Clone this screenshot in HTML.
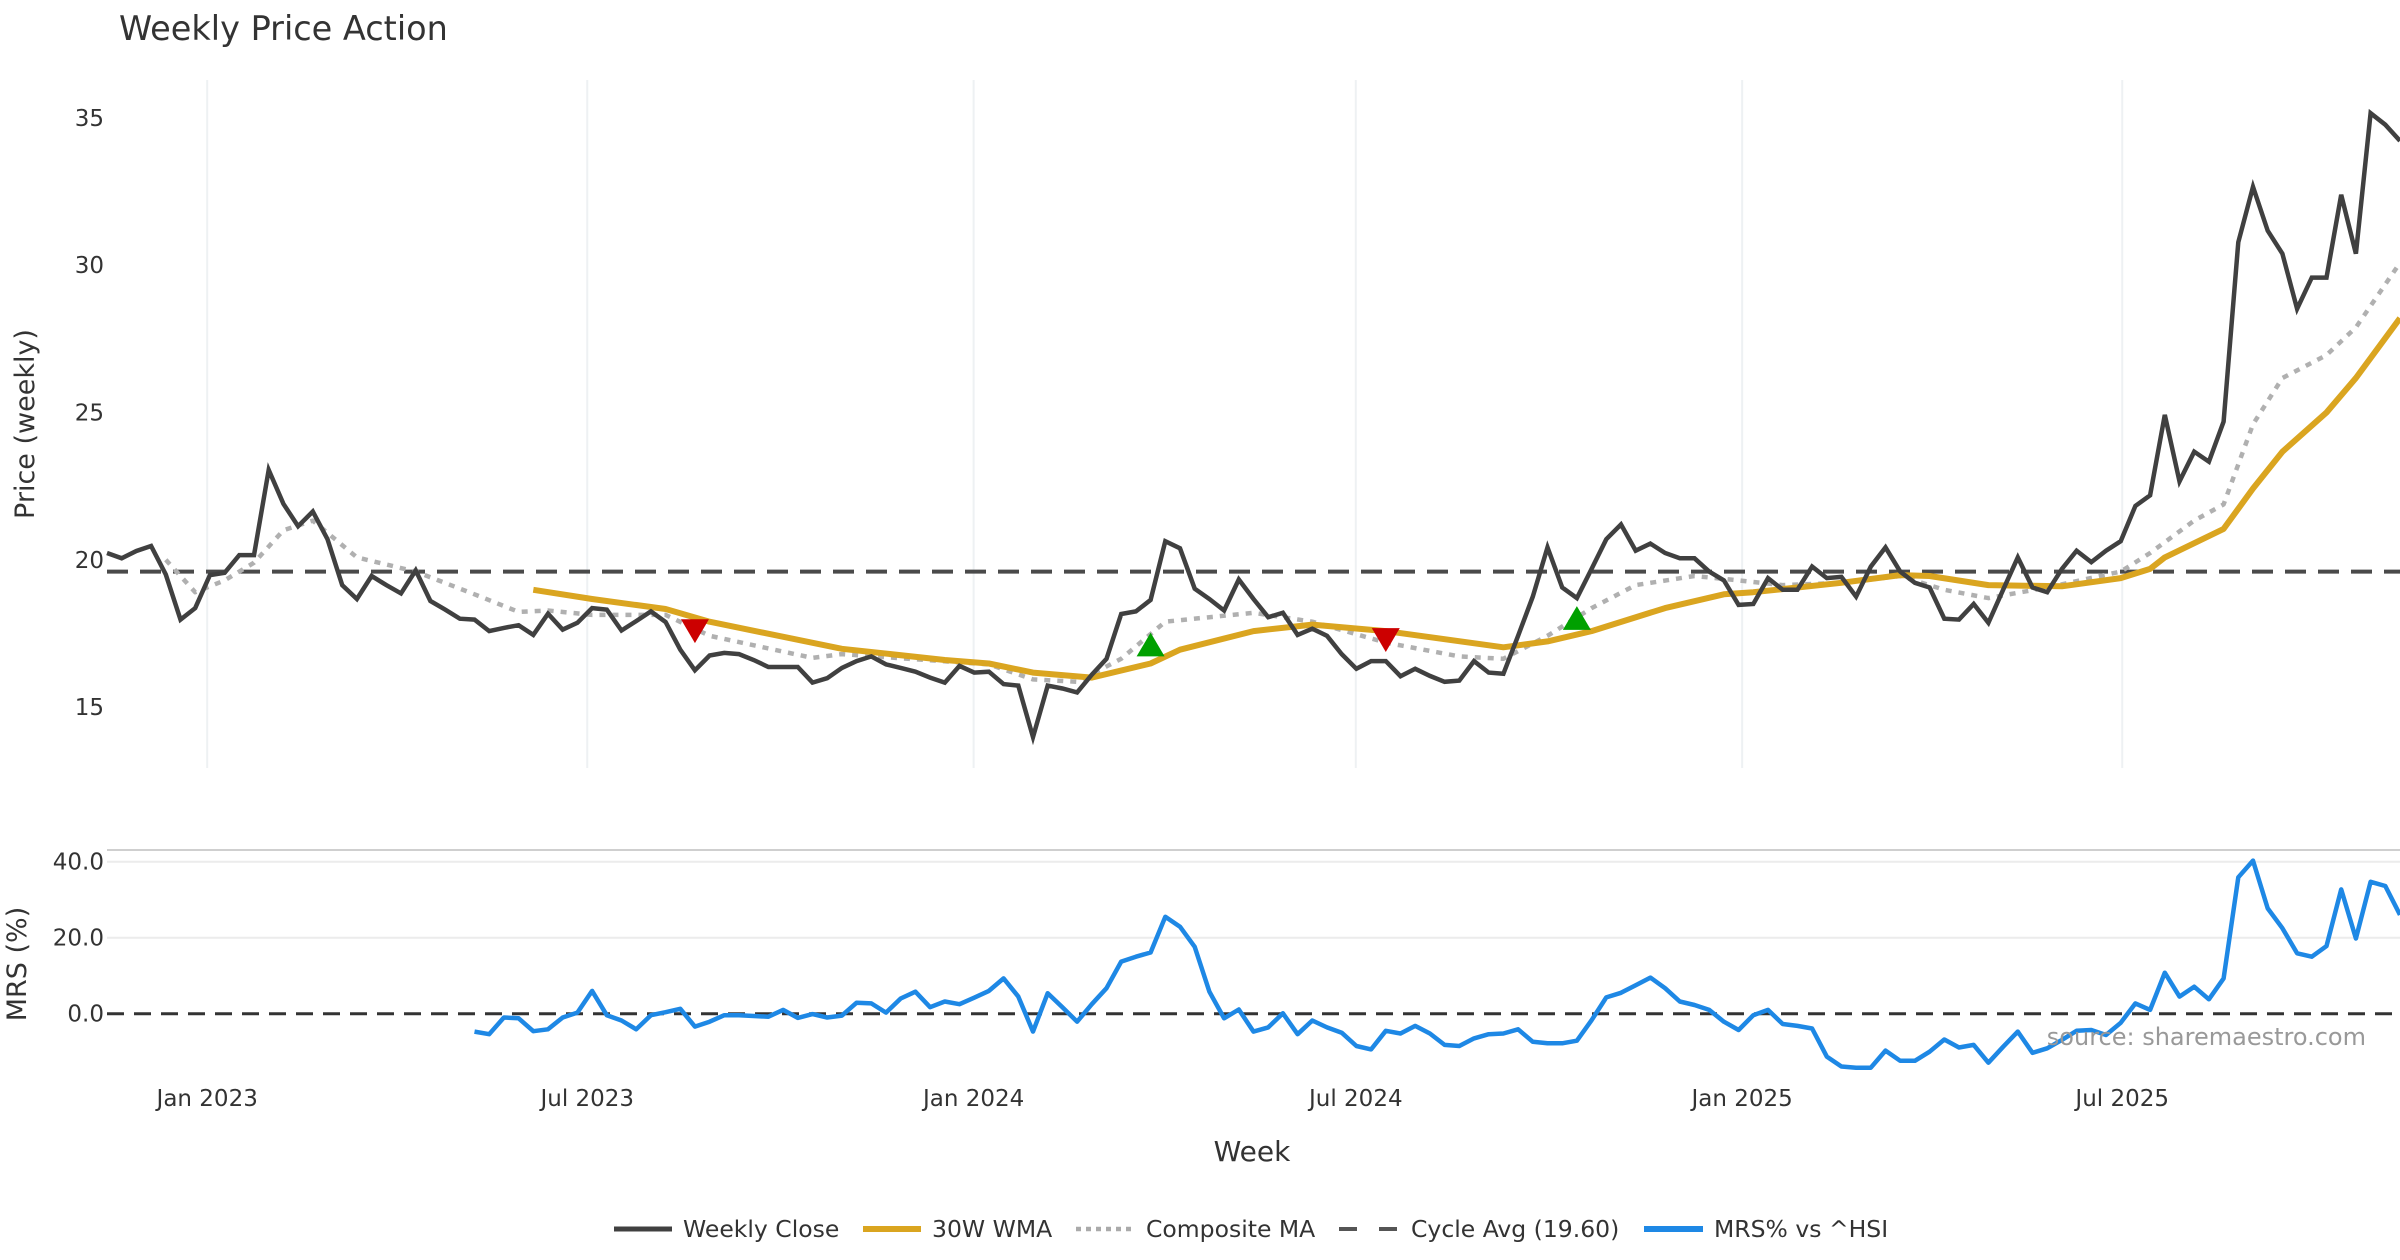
<!DOCTYPE html>
<html><head><meta charset="utf-8"><style>
html,body{margin:0;padding:0;background:#fff;}
svg{display:block;font-family:"DejaVu Sans","Liberation Sans",sans-serif;}
</style></head><body>
<svg id="chart" width="2400" height="1260" viewBox="0 0 2400 1260" xmlns="http://www.w3.org/2000/svg">
<text x="119" y="40" font-size="33.5" fill="#333">Weekly Price Action</text>
<text transform="translate(34,424) rotate(-90)" text-anchor="middle" font-size="27" fill="#333">Price (weekly)</text>
<text transform="translate(26,964) rotate(-90)" text-anchor="middle" font-size="27" fill="#333">MRS (%)</text>
<text x="1252" y="1161" text-anchor="middle" font-size="28" fill="#333">Week</text>
<line x1="107" x2="2400" y1="850" y2="850" stroke="#cfcfcf" stroke-width="2"/>
<g id="grid"></g>
<g id="marks"></g>
<text x="2366" y="1045" text-anchor="end" font-size="24" fill="#999">source: sharemaestro.com</text>
<g id="legend" font-size="23.5" fill="#333">
  <line x1="614" x2="672" y1="1229" y2="1229" stroke="#404040" stroke-width="5"/>
  <text x="683" y="1237">Weekly Close</text>
  <line x1="863" x2="921" y1="1229" y2="1229" stroke="#DAA520" stroke-width="6"/>
  <text x="932" y="1237">30W WMA</text>
  <line x1="1076" x2="1134" y1="1229" y2="1229" stroke="#aaa" stroke-width="4.5" stroke-dasharray="5,5"/>
  <text x="1146" y="1237">Composite MA</text>
  <line x1="1339" x2="1397" y1="1229" y2="1229" stroke="#555" stroke-width="4" stroke-dasharray="18,22"/>
  <text x="1411" y="1237">Cycle Avg (19.60)</text>
  <line x1="1644" x2="1703" y1="1229" y2="1229" stroke="#1E88E5" stroke-width="6"/>
  <text x="1714" y="1237">MRS% vs ^HSI</text>
</g>
</svg>
<script>
const closeValues = [20.23,20.05,20.3,20.47,19.5,17.97,18.36,19.48,19.56,20.16,20.16,23.05,21.9,21.14,21.64,20.7,19.14,18.67,19.45,19.14,18.86,19.64,18.6,18.31,18.0,17.97,17.58,17.69,17.78,17.45,18.17,17.63,17.86,18.36,18.31,17.6,17.92,18.25,17.89,16.95,16.25,16.75,16.84,16.8,16.6,16.36,16.36,16.36,15.83,15.98,16.33,16.56,16.72,16.45,16.33,16.2,16.0,15.83,16.4,16.17,16.2,15.78,15.73,13.98,15.73,15.63,15.5,16.1,16.64,18.16,18.25,18.64,20.63,20.39,19.02,18.67,18.28,19.33,18.67,18.05,18.2,17.45,17.66,17.42,16.8,16.3,16.56,16.56,16.05,16.3,16.06,15.86,15.9,16.56,16.17,16.13,17.42,18.75,20.42,19.06,18.7,19.69,20.7,21.2,20.31,20.55,20.23,20.05,20.05,19.6,19.3,18.47,18.5,19.38,18.98,18.98,19.77,19.38,19.42,18.75,19.77,20.42,19.6,19.22,19.06,18.0,17.97,18.5,17.86,18.98,20.08,19.06,18.9,19.69,20.31,19.92,20.31,20.63,21.83,22.19,24.92,22.66,23.67,23.33,24.69,30.78,32.66,31.17,30.39,28.52,29.58,29.58,32.39,30.39,35.16,34.77,34.22];
const wmaWeeks = [29,33,38,41,50,57,60,63,67,71,73,78,82,87,95,98,101,106,110,112,118,122,124,128,133,137,139,140,144,146,148,151,153,156];
const wmaValues = [18.98,18.67,18.33,17.9,16.98,16.6,16.48,16.17,16.0,16.48,16.95,17.58,17.8,17.58,17.03,17.23,17.58,18.36,18.83,18.9,19.22,19.48,19.45,19.14,19.1,19.38,19.69,20.08,21.05,22.42,23.67,25.0,26.17,28.2];
const compWeeks = [4,6,8,10,12,14,17,21,25,28,30,33,38,41,48,50,60,63,66,69,72,75,78,82,87,92,95,98,101,104,108,111,114,118,122,125,128,132,137,139,142,144,146,148,151,153,156];
const compValues = [20.0,18.9,19.3,19.9,21.0,21.33,20.08,19.6,18.83,18.23,18.28,18.13,18.13,17.42,16.67,16.8,16.45,15.94,15.86,16.64,17.9,18.05,18.2,17.9,17.19,16.72,16.64,17.42,18.36,19.14,19.45,19.3,19.14,19.22,19.45,18.98,18.7,19.06,19.6,20.23,21.33,21.88,24.6,26.17,26.95,27.89,30.08];
const mrsStart = 25;
const mrsValues = [-4.7,-5.4,-1.0,-1.2,-4.6,-4.1,-1.0,0.3,6.0,-0.4,-1.8,-4.1,-0.4,0.4,1.3,-3.4,-2.1,-0.4,-0.4,-0.6,-0.8,1.0,-1.1,-0.1,-1.0,-0.5,2.9,2.7,0.3,4.0,5.8,1.7,3.2,2.5,4.2,6.0,9.3,4.5,-4.7,5.4,1.7,-2.1,2.5,6.7,13.7,15.0,16.1,25.5,22.9,17.6,5.8,-1.2,1.1,-4.7,-3.6,0.1,-5.4,-1.8,-3.6,-5.0,-8.5,-9.4,-4.5,-5.2,-3.2,-5.2,-8.2,-8.5,-6.5,-5.4,-5.2,-4.1,-7.4,-7.8,-7.8,-7.1,-1.7,4.3,5.5,7.5,9.5,6.7,3.2,2.3,1.0,-2.1,-4.3,-0.4,1.0,-2.7,-3.2,-3.9,-11.3,-13.9,-14.2,-14.2,-9.7,-12.4,-12.4,-10.0,-6.8,-8.9,-8.2,-12.9,-8.7,-4.7,-10.3,-9.1,-6.9,-4.5,-4.3,-5.6,-2.4,2.7,1.0,10.8,4.5,7.1,3.8,9.3,35.9,40.3,27.7,22.5,15.9,15.0,17.8,32.7,19.8,34.7,33.6,26.0];
const signalWeeks = [40,71,87,100];
const signalValues = [17.6,17.1,17.3,18.0];
const signalTypes = ['sell','buy','sell','buy'];
const cycleAvg = 19.6;
const priceTicks = [15,20,25,30,35];
const mrsTicks = [0,20,40];
const mrsTickLabels = ['0.0','20.0','40.0'];
const xTickDates = ['2023-01-01','2023-07-01','2024-01-01','2024-07-01','2025-01-01','2025-07-01'];
const xTickLabels = ['Jan 2023','Jul 2023','Jan 2024','Jul 2024','Jan 2025','Jul 2025'];
const startDate = '2022-11-15';

const NS='http://www.w3.org/2000/svg';
const X0=107, X1=2400, NW=closeValues.length-1;
function xS(i){return X0+(X1-X0)*i/NW;}
function yP(v){return 117.9+(35-v)*29.46;}
function yM(v){return 1013.7-v*3.8;}
function mk(tag,attrs,parent){const e=document.createElementNS(NS,tag);for(const k in attrs)e.setAttribute(k,attrs[k]);parent.appendChild(e);return e;}
const grid=document.getElementById('grid'), marks=document.getElementById('marks'), svg=document.getElementById('chart');
function weekIdx(d){return (Date.parse(d)-Date.parse(startDate))/(7*86400000);}

xTickDates.forEach((d,k)=>{
  const x=xS(weekIdx(d))+1.5;
  const g=mk('line',{x1:x,x2:x,y1:80,y2:768,stroke:'#eef1f3','stroke-width':2},grid);
  
  
  const t=mk('text',{x:x,y:1106,'text-anchor':'middle','font-size':23,fill:'#333'},svg);
  t.textContent=xTickLabels[k];
  
  
});
priceTicks.forEach(v=>{
  const t=mk('text',{x:104,y:yP(v)+8,'text-anchor':'end','font-size':23,fill:'#333'},svg);
  t.textContent=String(v);
  
  
});
mrsTicks.forEach((v,k)=>{
  if(v>0){
    const g=mk('line',{x1:X0,x2:X1,y1:yM(v),y2:yM(v),stroke:'#ececec','stroke-width':2},grid);
    
    
  }
  const t=mk('text',{x:104,y:yM(v)+8,'text-anchor':'end','font-size':23,fill:'#333'},svg);
  t.textContent=mrsTickLabels[k];
  
  
});

function pathFrom(idx,vals,yf){return idx.map((i,k)=>(k?'L':'M')+xS(i).toFixed(1)+','+yf(vals[k]).toFixed(1)).join(' ');}

const cyc=mk('line',{x1:X0,x2:X1,y1:yP(cycleAvg),y2:yP(cycleAvg),stroke:'#4a4a4a','stroke-width':4,'stroke-dasharray':'21,12'},marks);



const comp=mk('path',{d:pathFrom(compWeeks,compValues,yP),fill:'none',stroke:'#b0b0b0','stroke-width':4.5,'stroke-dasharray':'6,7','stroke-linejoin':'round'},marks);



const wma=mk('path',{d:pathFrom(wmaWeeks,wmaValues,yP),fill:'none',stroke:'#DAA520','stroke-width':6,'stroke-linejoin':'round'},marks);



const closeIdx=closeValues.map((_,i)=>i);
const cl=mk('path',{d:pathFrom(closeIdx,closeValues,yP),fill:'none',stroke:'#404040','stroke-width':4.5,'stroke-linejoin':'miter'},marks);



signalWeeks.forEach((w,k)=>{
  const x=xS(w), y=yP(signalValues[k]), s=14;
  const pts = signalTypes[k]==='sell'
    ? [[x-s,y-s*0.8],[x+s,y-s*0.8],[x,y+s*0.9]]
    : [[x-s,y+s*0.8],[x+s,y+s*0.8],[x,y-s*0.9]];
  const p=mk('polygon',{points:pts.map(q=>q.join(',')).join(' '),fill:signalTypes[k]==='sell'?'#cc0000':'#00a000'},marks);
  
  
});

const z=mk('line',{x1:X0,x2:X1,y1:yM(0),y2:yM(0),stroke:'#333','stroke-width':3,'stroke-dasharray':'17,10'},marks);



const mrsIdx=mrsValues.map((_,k)=>mrsStart+k);
const mr=mk('path',{d:pathFrom(mrsIdx,mrsValues,yM),fill:'none',stroke:'#1E88E5','stroke-width':4.5,'stroke-linejoin':'round'},marks);


</script>
</body></html>
